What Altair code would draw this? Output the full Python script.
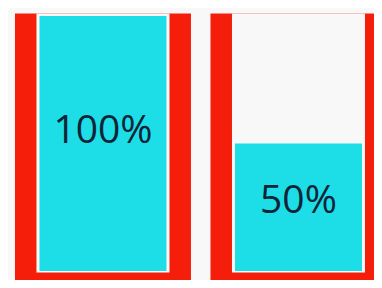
import altair as alt
import pandas as pd

# data
slots = [0, 1]
values = [100, 50]
labels = ["100%", "50%"]

df = pd.DataFrame({"slot": slots, "value": values, "label": labels})

RED = "#f41e0b"
CYAN = "#1ddde6"
BG = "#f9f8f9"

xs = alt.Scale(domain=[-0.4602, 1.3607], nice=False, zero=False)
ys = alt.Scale(domain=[-3.53, 103.14], nice=False, zero=False)

base = alt.Chart(df).transform_calculate(
    rim="101", floor="-30", bottom="-0.6", ly="datum.value*0.55", zero="0"
)

x = alt.X("slot:Q", scale=xs, axis=None)

red = base.mark_bar(color=RED, width=176, clip=True).encode(
    x=x, y=alt.Y("floor:Q", scale=ys, axis=None), y2="rim:Q"
)
cavity = base.mark_bar(color=BG, width=133, clip=True).encode(
    x=x, y=alt.Y("bottom:Q", scale=ys, axis=None), y2="rim:Q"
)
fill = base.mark_bar(color=CYAN, width=127, clip=True).encode(
    x=x, y=alt.Y("zero:Q", scale=ys, axis=None), y2="value:Q"
)
text = base.mark_text(font="Open Sans", fontSize=39, color="#0f2436", baseline="middle").encode(
    x=x, y=alt.Y("ly:Q", scale=ys, axis=None), text="label:N"
)

chart = (red + cavity + fill + text).properties(
    width=366, height=272, padding=0, background=BG
).configure_view(stroke=None)

chart.save("out.html", embed_options={"renderer": "svg", "actions": False})
